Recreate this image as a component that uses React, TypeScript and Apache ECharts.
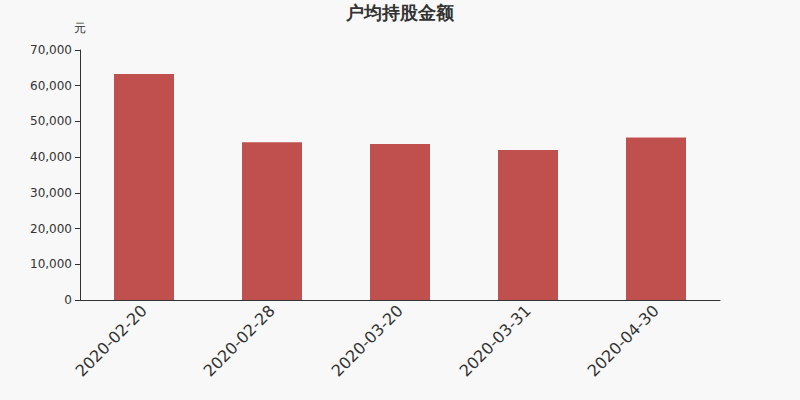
import { useEffect, useRef } from "react";
import * as echarts from "echarts";

const categories = ["2020-02-20", "2020-02-28", "2020-03-20", "2020-03-31", "2020-04-30"];
const values = [63300, 44200, 43700, 42000, 45500];

export default function App() {
  const chartRef = useRef<HTMLDivElement>(null);

  useEffect(() => {
    if (!chartRef.current) return;
    const chart = echarts.init(chartRef.current, undefined, { renderer: "svg" });
    const font = "'DejaVu Sans', sans-serif";
    chart.setOption({
      animation: false,
      backgroundColor: "#f8f8f8",
      title: {
        text: "户均持股金额",
        left: "center",
        top: -2,
        textStyle: { fontSize: 18, fontWeight: "bold", color: "#333", fontFamily: font },
      },
      grid: { left: 80, right: 80, top: 50, bottom: 100 },
      xAxis: {
        type: "category",
        data: categories,
        axisLine: { lineStyle: { color: "#333" } },
        axisTick: { lineStyle: { color: "#333" } },
        axisLabel: { rotate: 45, fontSize: 16, color: "#333", fontFamily: font, margin: 8 },
      },
      yAxis: {
        type: "value",
        name: "元",
        nameGap: 16,
        nameTextStyle: { fontSize: 12, color: "#333", fontFamily: font, align: "center" },
        min: 0,
        max: 70000,
        interval: 10000,
        axisLine: { show: true, lineStyle: { color: "#333" } },
        axisTick: { show: true, lineStyle: { color: "#333" } },
        splitLine: { show: false },
        axisLabel: {
          fontSize: 12,
          color: "#333",
          fontFamily: font,
          formatter: (v: number) => v.toLocaleString("en-US"),
        },
      },
      series: [
        {
          type: "bar",
          data: values,
          barWidth: 60,
          itemStyle: { color: "#c0504d" },
        },
      ],
    });
    return () => chart.dispose();
  }, []);

  return (
    <div
      ref={chartRef}
      style={{ position: "fixed", left: 0, top: 0, width: 800, height: 400 }}
    />
  );
}
